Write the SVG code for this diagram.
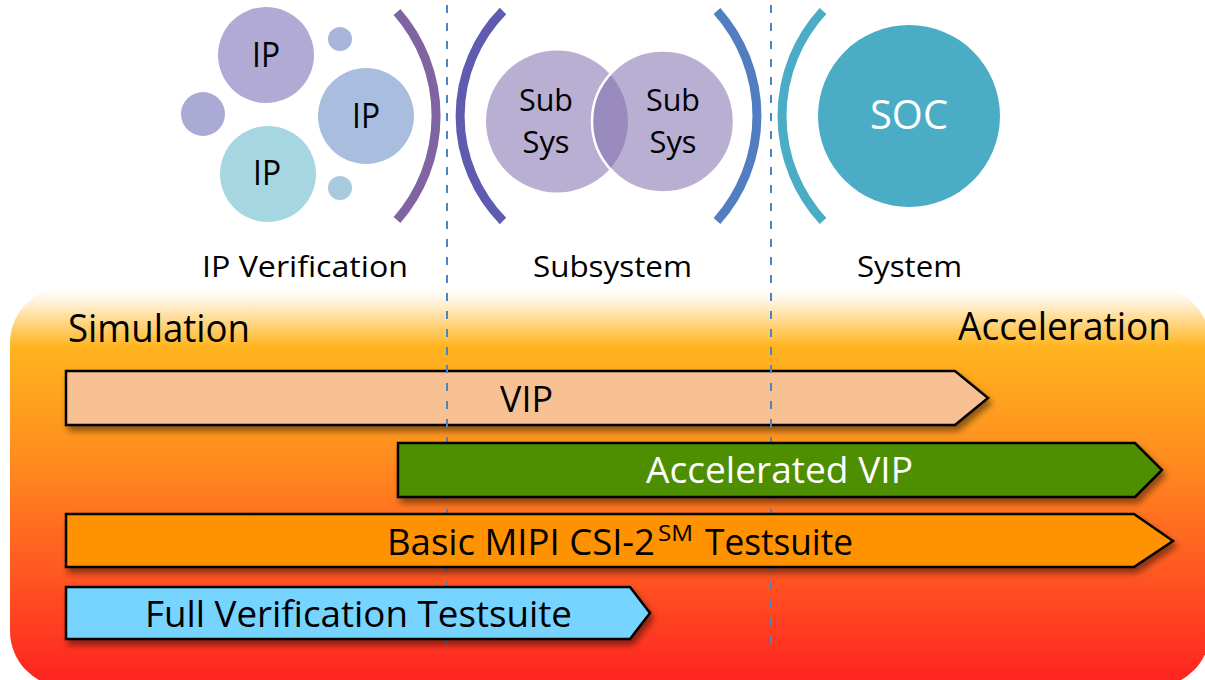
<svg xmlns="http://www.w3.org/2000/svg" width="1205" height="680" viewBox="0 0 1205 680">
  <style>
    text { font-family: "Open Sans", "Lato", "Liberation Sans", sans-serif; fill: #000; }
    .ip { font-size: 34px; text-anchor: middle; }
    .sub { font-size: 31px; text-anchor: middle; }
    .label { font-size: 30px; }
    .big { font-size: 38px; }
    .bar-text { font-size: 36px; }
    .arc { fill: none; stroke-width: 9; stroke-linecap: butt; }
    .bar { stroke: #000; stroke-width: 2.5; stroke-linejoin: miter; filter: url(#shadow); }
    .divider { stroke: #4A84C6; stroke-width: 2; stroke-dasharray: 8 10; fill: none; }
  </style>
  <defs>
    <linearGradient id="stage" x1="0" y1="0" x2="0" y2="1">
      <stop offset="0" stop-color="#FFFFFF"/>
      <stop offset="0.03" stop-color="#FFF6E6"/>
      <stop offset="0.15" stop-color="#FFB41F"/>
      <stop offset="0.42" stop-color="#FF8E1E"/>
      <stop offset="0.70" stop-color="#FF5A22"/>
      <stop offset="1" stop-color="#FF2020"/>
    </linearGradient>
    <filter id="shadow" x="-5%" y="-30%" width="112%" height="170%">
      <feDropShadow dx="3" dy="5" stdDeviation="3" flood-color="#000" flood-opacity="0.45"/>
    </filter>
  </defs>

  <!-- stage background: simulation to acceleration -->
  <rect id="stage-bg" x="10" y="287" width="1200" height="400" rx="56" ry="56" fill="url(#stage)"/>

  <!-- IP verification cluster -->
  <g id="ip-cluster">
    <circle cx="203" cy="114" r="22" fill="#ABAAD5"/>
    <circle cx="340" cy="39" r="12" fill="#A8B6DB"/>
    <circle cx="340" cy="188" r="12" fill="#A7CADF"/>
    <circle cx="266" cy="55" r="48" fill="#B0AAD4"/>
    <circle cx="366" cy="116" r="48" fill="#A9BEDE"/>
    <circle cx="268" cy="174" r="48" fill="#A6D6E1"/>
    <text class="ip" x="266" y="67" textLength="28" lengthAdjust="spacingAndGlyphs">IP</text>
    <text class="ip" x="366" y="128" textLength="28" lengthAdjust="spacingAndGlyphs">IP</text>
    <text class="ip" x="267" y="185" textLength="28" lengthAdjust="spacingAndGlyphs">IP</text>
    <path class="arc" stroke="#8064A2" d="M397,12 A158,158 0 0 1 397,220"/>
    <text class="label" x="202" y="277" textLength="206" lengthAdjust="spacingAndGlyphs">IP Verification</text>
  </g>

  <!-- subsystem pair -->
  <g id="subsystem">
    <path class="arc" stroke="#5F5BAF" d="M503,11 A150,150 0 0 0 503,221"/>
    <circle cx="557" cy="121.5" r="71" fill="#816FAE" fill-opacity="0.557"/>
    <circle cx="663" cy="121.5" r="71" fill="#816FAE" fill-opacity="0.557" stroke="#FFFFFF" stroke-width="2.5"/>
    <text class="sub" x="546" y="111" textLength="54" lengthAdjust="spacingAndGlyphs">Sub</text>
    <text class="sub" x="546" y="153" textLength="47" lengthAdjust="spacingAndGlyphs">Sys</text>
    <text class="sub" x="673" y="111" textLength="54" lengthAdjust="spacingAndGlyphs">Sub</text>
    <text class="sub" x="673" y="153" textLength="47" lengthAdjust="spacingAndGlyphs">Sys</text>
    <path class="arc" stroke="#527DC0" d="M717,11 A158,158 0 0 1 717,221"/>
    <text class="label" x="533" y="277" textLength="159" lengthAdjust="spacingAndGlyphs">Subsystem</text>
  </g>

  <!-- system on chip -->
  <g id="system">
    <path class="arc" stroke="#4BACC6" d="M823,11 A155,155 0 0 0 823,221"/>
    <circle cx="909" cy="116" r="91" fill="#4BACC6"/>
    <text x="909" y="129" style="font-size:40px; text-anchor:middle; fill:#FFFFFF" textLength="78" lengthAdjust="spacingAndGlyphs">SOC</text>
    <text class="label" x="857" y="277" textLength="105" lengthAdjust="spacingAndGlyphs">System</text>
  </g>

  <!-- axis captions -->
  <g id="axis">
    <text class="big" x="68" y="342" textLength="182" lengthAdjust="spacingAndGlyphs">Simulation</text>
    <text class="big" x="958" y="340" textLength="213" lengthAdjust="spacingAndGlyphs">Acceleration</text>
  </g>

  <!-- VIP bar sits under the stage dividers -->
  <g id="vip">
    <path class="bar" fill="#F8C194" d="M66,371 H955 L988,398 L955,425 H66 Z"/>
    <text class="bar-text" x="500" y="412" textLength="53" lengthAdjust="spacingAndGlyphs">VIP</text>
  </g>

  <!-- stage dividers -->
  <g id="dividers">
    <line class="divider" x1="447" y1="5" x2="447" y2="651"/>
    <line class="divider" x1="771" y1="5" x2="771" y2="651"/>
  </g>

  <g id="accelerated-vip">
    <path class="bar" fill="#4E8F00" d="M398,443 H1135 L1162,470 L1135,497 H398 Z"/>
    <text class="bar-text" x="646" y="483" style="fill:#FFFFFF" textLength="267" lengthAdjust="spacingAndGlyphs">Accelerated VIP</text>
  </g>

  <g id="basic-testsuite">
    <path class="bar" fill="#FF9200" d="M66,514 H1134 L1173,541 L1134,567 H66 Z"/>
    <text class="bar-text" x="387" y="555" textLength="268" lengthAdjust="spacingAndGlyphs">Basic MIPI CSI-2</text>
    <text x="658" y="541" style="font-size:22px" textLength="35" lengthAdjust="spacingAndGlyphs">SM</text>
    <text class="bar-text" x="705" y="555" textLength="148" lengthAdjust="spacingAndGlyphs">Testsuite</text>
  </g>

  <g id="full-testsuite">
    <path class="bar" fill="#77D4FF" d="M66,587 H630 L650,613 L630,639 H66 Z"/>
    <text class="bar-text" x="145" y="627" textLength="427" lengthAdjust="spacingAndGlyphs">Full Verification Testsuite</text>
  </g>
</svg>
